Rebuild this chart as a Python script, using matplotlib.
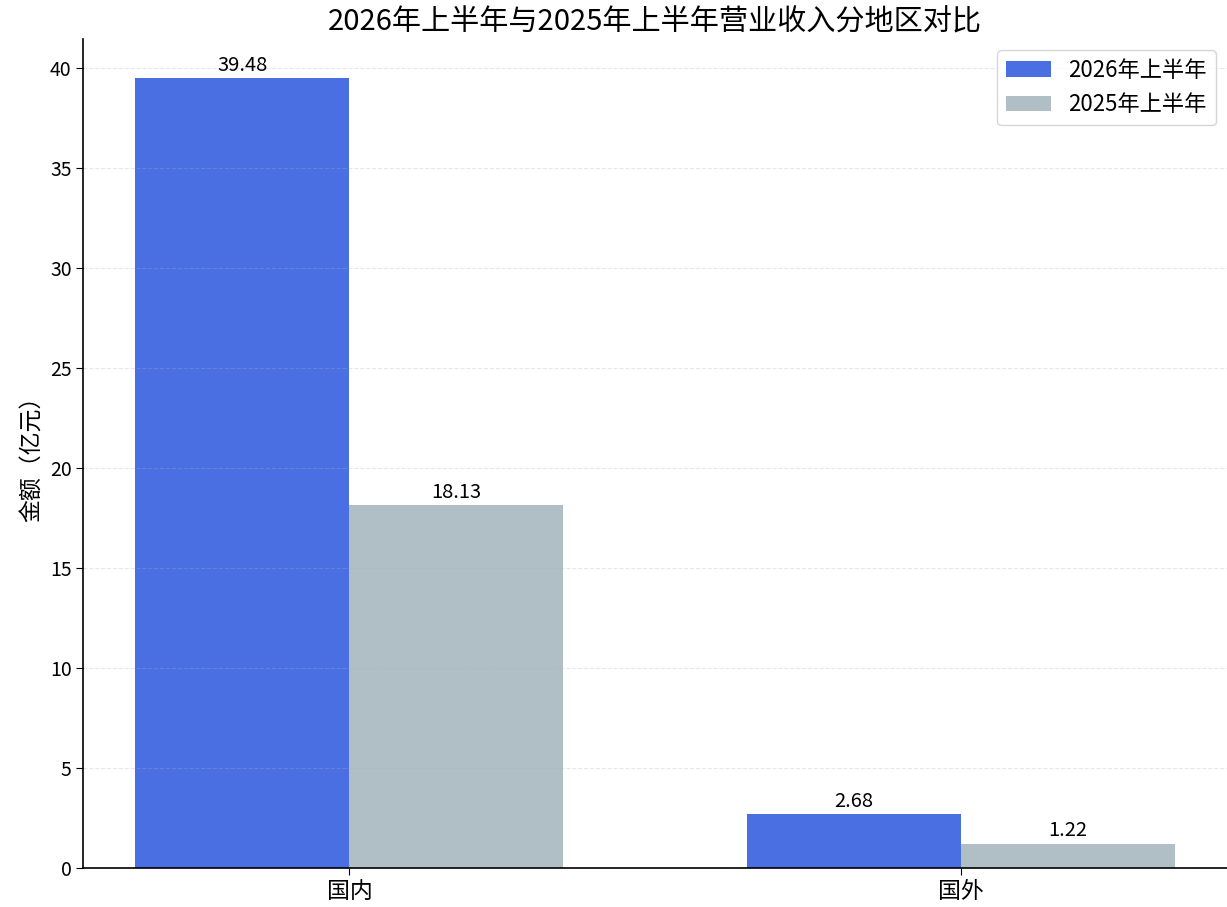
import numpy as np
import matplotlib
matplotlib.use('Agg')
import matplotlib.pyplot as plt

plt.rcParams['font.family'] = ['Noto Sans CJK SC', 'DejaVu Sans']
plt.rcParams['axes.unicode_minus'] = False

regions = ['国内', '国外']
h1_2026 = [39.48, 2.68]
h1_2025 = [18.13, 1.22]
series_names = ['2026年上半年', '2025年上半年']

fig, ax = plt.subplots(figsize=(12.27, 9.07), dpi=100)
fig.subplots_adjust(left=0.068, right=1.0, bottom=0.043, top=0.957)

x = np.arange(len(regions))
width = 0.35
bars1 = ax.bar(x - width / 2, h1_2026, width, label=series_names[0], color='#4a6fe3')
bars2 = ax.bar(x + width / 2, h1_2025, width, label=series_names[1], color='#b0bec5')

for bars in (bars1, bars2):
    for b in bars:
        ax.annotate(f'{b.get_height():.2f}',
                    xy=(b.get_x() + b.get_width() / 2, b.get_height()),
                    xytext=(0, 2), textcoords='offset points',
                    ha='center', va='bottom', fontsize=14.5)

ax.set_xticks(x)
ax.set_xticklabels(regions, fontsize=16.5)
ax.tick_params(axis='y', labelsize=14)
ax.tick_params(axis='both', length=5)
ax.set_ylabel('金额（亿元）', fontsize=16.5)
ax.set_title('2026年上半年与2025年上半年营业收入分地区对比', fontsize=21)
ax.set_ylim(0, max(h1_2026) * 1.05)
ax.grid(axis='y', linestyle='--', alpha=0.3)
ax.spines['top'].set_visible(False)
ax.spines['right'].set_visible(False)
for s in ('left', 'bottom'):
    ax.spines[s].set_linewidth(1.2)
ax.legend(loc='upper right', fontsize=16)

plt.savefig('out.png')
